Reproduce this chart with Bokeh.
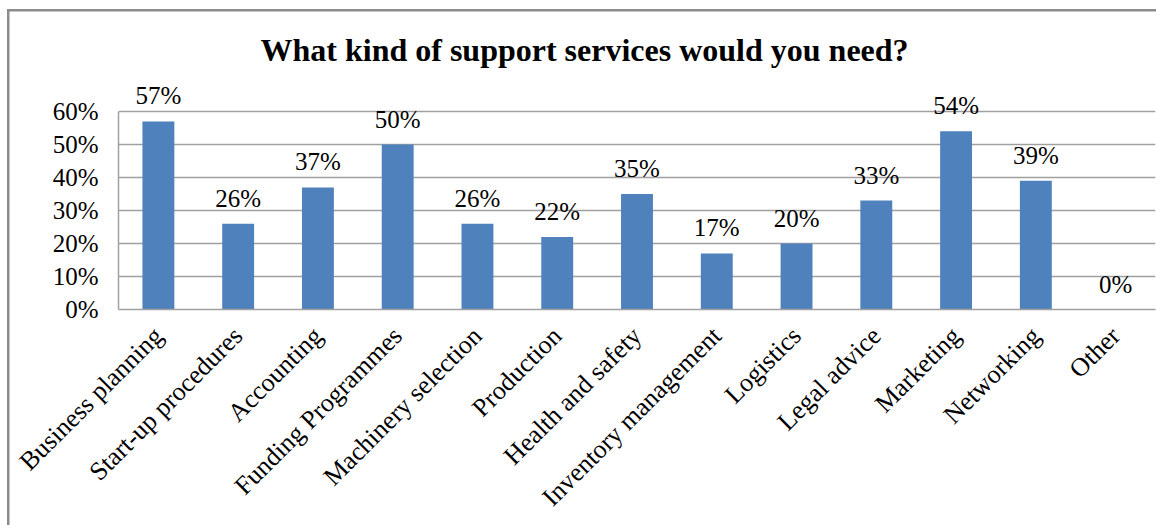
from bokeh.plotting import figure
from bokeh.models import (ColumnDataSource, FactorRange, LabelSet, Title,
                          PrintfTickFormatter, FixedTicker)
from bokeh.embed import file_html
from bokeh.resources import INLINE
import math

# Survey results: share of respondents needing each support service (%)
categories = [
    "Business planning", "Start-up procedures", "Accounting",
    "Funding Programmes", "Machinery selection", "Production",
    "Health and safety", "Inventory management", "Logistics",
    "Legal advice", "Marketing", "Networking", "Other",
]
shares = [57, 26, 37, 50, 26, 22, 35, 17, 20, 33, 54, 39, 0]
y_ticks = [0, 10, 20, 30, 40, 50, 60]
title_text = "What  kind of support services would you need?"

FONT = "Liberation Serif"
BAR = "#4F81BD"
GRID = "#A0A0A0"
FRAME = "#8C8C8C"

# vertical scale: 3.3 px per percent, 60% line sits 31 px below the frame top
Y_TOP = 60 + 31 / 3.3

source = ColumnDataSource(data=dict(
    cat=categories,
    share=shares,
    label=[f"{v}%" for v in shares],
))

p = figure(
    width=1156, height=525,
    x_range=FactorRange(factors=categories, range_padding=0),
    y_range=(0, Y_TOP),
    output_backend="svg", toolbar_location=None,
    min_border_left=118, min_border_right=1,
    min_border_top=80, min_border_bottom=216,
)
p.outline_line_color = None
p.background_fill_color = "white"
p.border_fill_alpha = 0

# chart border along the top and left edges, painted behind the canvas
p.styles = {
    "background": (
        f"linear-gradient({FRAME},{FRAME}) 7px 9px / 2.5px 100% no-repeat, "
        f"linear-gradient({FRAME},{FRAME}) 7px 9px / 100% 2.5px no-repeat, "
        "white"
    ),
}

p.title = Title(
    text=title_text, align="left", offset=142, standoff=26,
    text_font=FONT, text_font_size="32px", text_font_style="bold",
    text_color="black",
)

p.vbar(x="cat", top="share", width=0.4, source=source,
       fill_color=BAR, line_color=None)

# value labels above each bar
p.add_layout(LabelSet(
    x="cat", y="share", text="label", source=source,
    text_align="center", text_baseline="alphabetic", y_offset=17,
    text_font=FONT, text_font_size="25px", text_color="black",
))

# y axis
p.yaxis.ticker = FixedTicker(ticks=y_ticks)
p.yaxis.bounds = (0, 60)
p.yaxis.formatter = PrintfTickFormatter(format="%d%%")
p.yaxis.major_label_text_font = FONT
p.yaxis.major_label_text_font_size = "25px"
p.yaxis.major_label_text_color = "black"
p.yaxis.major_tick_out = 0
p.yaxis.major_tick_in = 0
p.yaxis.minor_tick_line_color = None
p.yaxis.major_label_standoff = 20
p.yaxis.axis_line_color = GRID
p.yaxis.axis_line_width = 1.5

# x axis with slanted category names
p.xaxis.major_label_orientation = math.pi / 4
p.xaxis.major_label_text_font = FONT
p.xaxis.major_label_text_font_size = "26px"
p.xaxis.major_label_text_color = "black"
p.xaxis.major_tick_out = 0
p.xaxis.major_tick_in = 0
p.xaxis.major_label_standoff = 22
p.xaxis.axis_line_color = GRID
p.xaxis.axis_line_width = 1.5

p.xgrid.grid_line_color = None
p.ygrid.grid_line_color = GRID
p.ygrid.grid_line_width = 1.5

open("out.html", "w").write(file_html(p, INLINE))
